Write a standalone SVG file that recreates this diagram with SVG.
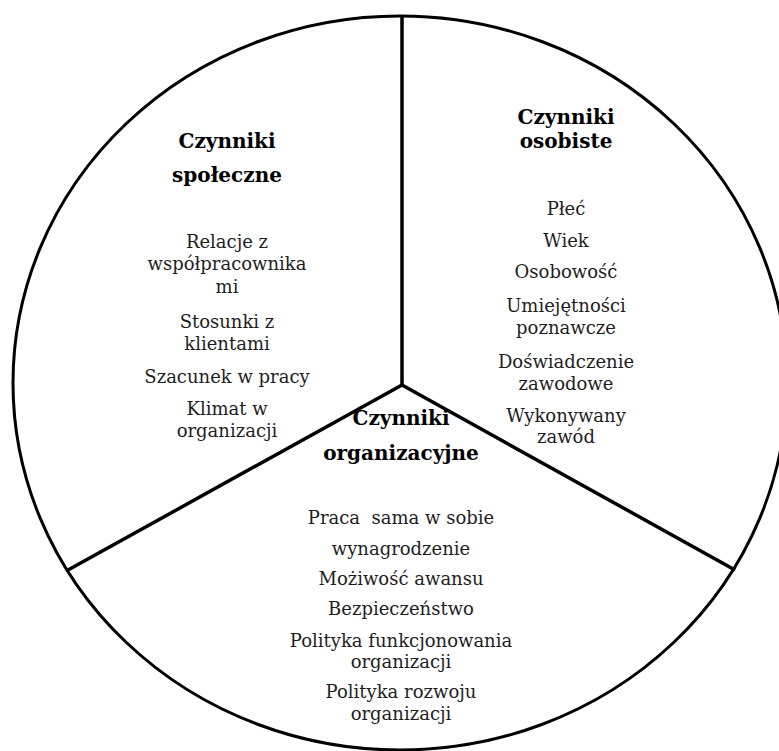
<svg xmlns="http://www.w3.org/2000/svg" width="779" height="751" viewBox="0 0 779 751">
  <style>
    .outline { fill: none; stroke: #000; stroke-width: 3; }
    .divider { fill: none; stroke: #000; stroke-width: 3.5; stroke-linecap: butt; }
    .title { font-family: "DejaVu Serif", "Liberation Serif", serif; font-size: 20px; font-weight: bold; fill: #000; text-anchor: middle; }
    .item { font-family: "DejaVu Serif", "Liberation Serif", serif; font-size: 18px; fill: #1e1e1e; text-anchor: middle; }
    .pre { white-space: pre; }
  </style>
  <rect width="779" height="751" fill="#fff"/>

  <!-- outer ring -->
  <ellipse class="outline" cx="400" cy="383" rx="387" ry="367"/>

  <!-- dividers between the three sectors -->
  <g id="dividers">
    <line class="divider" x1="402" y1="16" x2="402" y2="385"/>
    <line class="divider" x1="402" y1="385" x2="68" y2="570"/>
    <line class="divider" x1="402" y1="385" x2="735" y2="570"/>
  </g>

  <!-- social factors -->
  <g id="czynniki-spoleczne">
    <text class="title" x="227" y="148">Czynniki</text>
    <text class="title" x="227" y="182">społeczne</text>
    <text class="item" x="227" y="248">Relacje z</text>
    <text class="item" x="227" y="270">współpracownika</text>
    <text class="item" x="227" y="293">mi</text>
    <text class="item" x="227" y="328">Stosunki z</text>
    <text class="item" x="227" y="350">klientami</text>
    <text class="item" x="227" y="383">Szacunek w pracy</text>
    <text class="item" x="227" y="415">Klimat w</text>
    <text class="item" x="227" y="437">organizacji</text>
  </g>

  <!-- personal factors -->
  <g id="czynniki-osobiste">
    <text class="title" x="566" y="124">Czynniki</text>
    <text class="title" x="566" y="148">osobiste</text>
    <text class="item" x="566" y="215">Płeć</text>
    <text class="item" x="566" y="247">Wiek</text>
    <text class="item" x="566" y="278">Osobowość</text>
    <text class="item" x="566" y="312">Umiejętności</text>
    <text class="item" x="566" y="334">poznawcze</text>
    <text class="item" x="566" y="368">Doświadczenie</text>
    <text class="item" x="566" y="390">zawodowe</text>
    <text class="item" x="566" y="422">Wykonywany</text>
    <text class="item" x="566" y="443">zawód</text>
  </g>

  <!-- organisational factors -->
  <g id="czynniki-organizacyjne">
    <text class="title" x="401" y="425">Czynniki</text>
    <text class="title" x="401" y="460">organizacyjne</text>
    <text class="item pre" x="401" y="524">Praca  sama w sobie</text>
    <text class="item" x="401" y="555">wynagrodzenie</text>
    <text class="item" x="401" y="585">Możiwość awansu</text>
    <text class="item" x="401" y="615">Bezpieczeństwo</text>
    <text class="item" x="401" y="647">Polityka funkcjonowania</text>
    <text class="item" x="401" y="668">organizacji</text>
    <text class="item" x="401" y="698">Polityka rozwoju</text>
    <text class="item" x="401" y="720">organizacji</text>
  </g>
</svg>
